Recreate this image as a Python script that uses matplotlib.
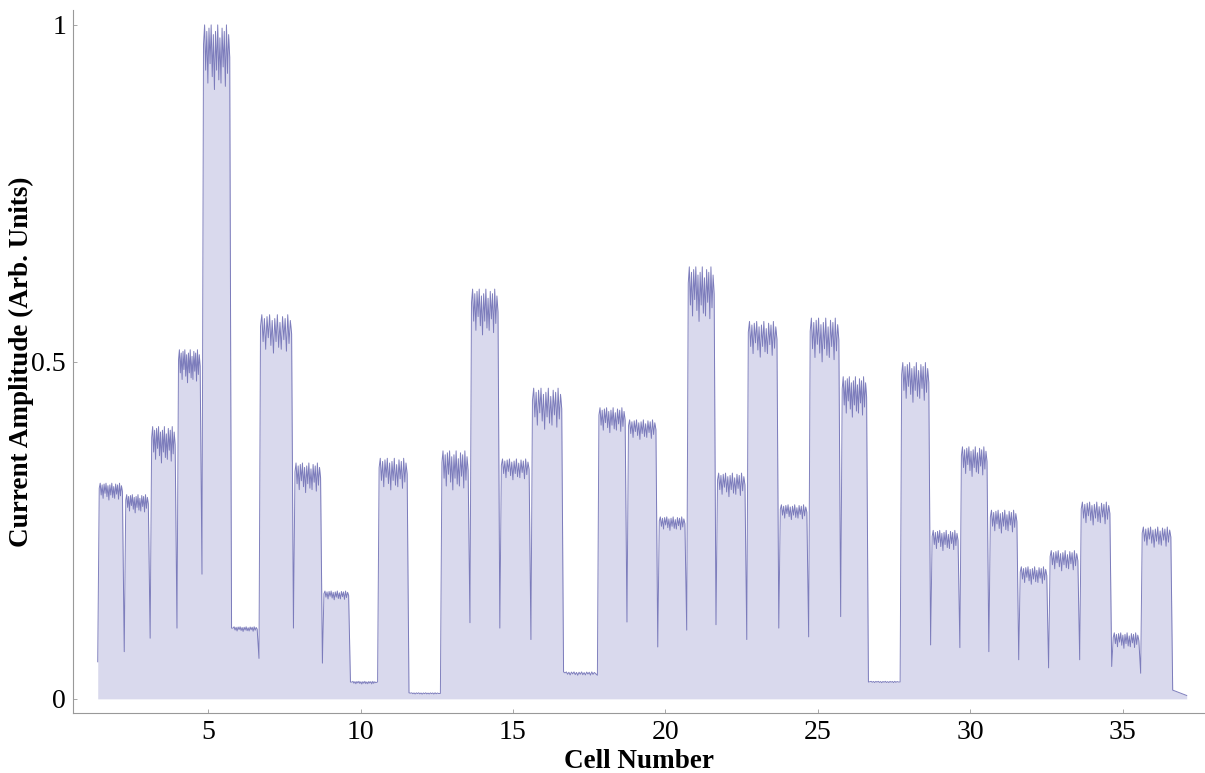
import numpy as np
import matplotlib
matplotlib.use("Agg")
import matplotlib.pyplot as plt

# cell boundaries along the x axis (cell number units)
cell_edges = [1.38, 2.25, 3.10, 3.98, 4.80, 5.77, 6.67, 7.80, 8.75, 9.67,
              10.56, 11.59, 12.62, 13.59, 14.57, 15.59, 16.66, 17.77, 18.74,
              19.75, 20.70, 21.66, 22.67, 23.72, 24.70, 25.75, 26.66, 27.70,
              28.70, 29.66, 30.61, 31.59, 32.57, 33.59, 34.64, 35.59, 36.64]

# top of the ripple on each cell plateau
cell_top = [0.320, 0.303, 0.404, 0.518, 1.000, 0.107, 0.570, 0.350, 0.160,
            0.026, 0.357, 0.009, 0.368, 0.608, 0.356, 0.461, 0.040, 0.432,
            0.414, 0.270, 0.641, 0.335, 0.560, 0.288, 0.565, 0.478, 0.026,
            0.499, 0.250, 0.374, 0.280, 0.196, 0.220, 0.292, 0.098, 0.255]

# bottom of the ripple on each cell plateau
cell_low = [0.295, 0.276, 0.350, 0.469, 0.904, 0.100, 0.513, 0.306, 0.147,
            0.022, 0.310, 0.007, 0.310, 0.540, 0.325, 0.400, 0.035, 0.395,
            0.385, 0.250, 0.560, 0.300, 0.507, 0.266, 0.500, 0.418, 0.024,
            0.440, 0.220, 0.330, 0.246, 0.170, 0.190, 0.258, 0.075, 0.225]

# level of the dip at the right edge of each cell
gap_level = [0.070, 0.090, 0.105, 0.185, 0.105, 0.060, 0.105, 0.053, 0.025,
             0.025, 0.009, 0.008, 0.113, 0.105, 0.088, 0.040, 0.035, 0.114,
             0.077, 0.102, 0.110, 0.088, 0.105, 0.092, 0.122, 0.025, 0.025,
             0.080, 0.076, 0.070, 0.058, 0.046, 0.058, 0.048, 0.038, 0.013]

start_level = 0.055
end_x = 37.10
end_level = 0.005

# ripple shape on a plateau (0 = top, 1 = bottom)
ripple = [0.3, 0.0, 0.7, 0.1, 0.9, 0.05, 0.6, 0.0, 0.8, 0.15, 1.0, 0.1, 0.7,
          0.0, 0.85, 0.2, 0.9, 0.05, 0.65, 0.1, 0.95, 0.0, 0.75, 0.15, 0.5]

x_ticks = [5, 10, 15, 20, 25, 30, 35]
y_ticks = [0, 0.5, 1]
y_tick_labels = ["0", "0.5", "1"]

# build the trace cell by cell
xs = []
ys = []
prev = start_level
for i in range(len(cell_top)):
    x0 = cell_edges[i]
    x1 = cell_edges[i + 1]
    xs.append(x0)
    ys.append(prev)
    px = np.linspace(x0 + 0.05, x1 - 0.06, len(ripple))
    for k in range(len(ripple)):
        xs.append(px[k])
        ys.append(cell_top[i] - ripple[k] * (cell_top[i] - cell_low[i]))
    prev = gap_level[i]
xs.append(cell_edges[-1])
ys.append(prev)
xs.append(end_x)
ys.append(end_level)

xs = np.array(xs)
ys = np.array(ys)

plt.rcParams["font.family"] = ["Liberation Serif", "DejaVu Serif"]

fig = plt.figure(figsize=(12.05, 7.73), dpi=100)
ax = fig.add_axes([0.0606, 0.0776, 0.9394, 0.9094])

ax.fill_between(xs, 0, ys, color="#d9d9ed", lw=0)
ax.plot(xs, ys, color="#6a6ab2", lw=0.7, alpha=0.85)

ax.set_xlim(0.57, 37.7)
ax.set_ylim(-0.021, 1.022)

ax.set_xticks(x_ticks)
ax.set_yticks(y_ticks)
ax.set_yticklabels(y_tick_labels)
ax.tick_params(direction="in", length=3, width=0.6, color="#999999",
               labelsize=20, pad=5)

for side in ["top", "right"]:
    ax.spines[side].set_visible(False)
for side in ["left", "bottom"]:
    ax.spines[side].set_color("#999999")
    ax.spines[side].set_linewidth(0.8)

ax.set_xlabel("Cell Number", fontsize=19.5, fontweight="bold", labelpad=3)
ax.set_ylabel("Current Amplitude (Arb. Units)", fontsize=19.5,
              fontweight="bold", labelpad=-2)

fig.savefig("out.png", dpi=100)
